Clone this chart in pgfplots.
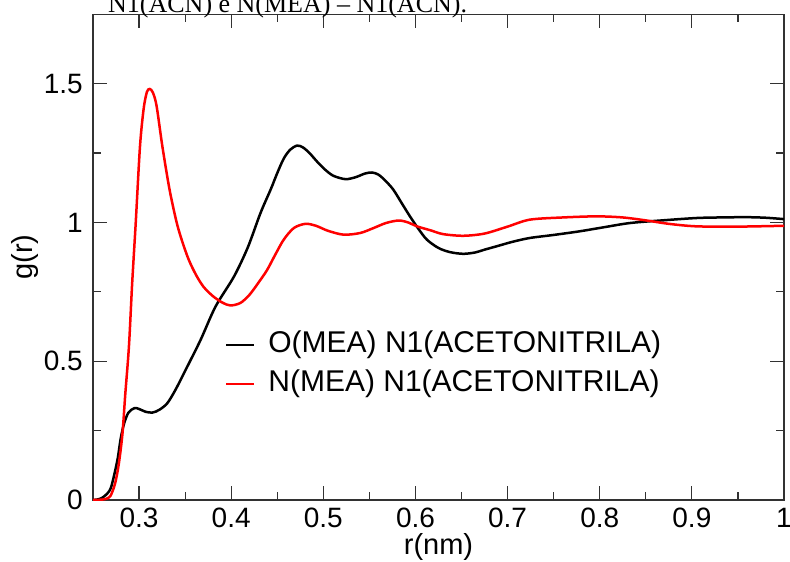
\documentclass[border=0pt]{standalone}
\usepackage{pgfplots}
\pgfplotsset{compat=1.18}
\usepackage{fontspec}
\setmainfont{Liberation Sans}
\newfontfamily\seriffont{Liberation Serif}
\definecolor{axgray}{RGB}{50,50,50}
\begin{document}
\begin{tikzpicture}
\begin{axis}[
  width=691pt, height=485.7pt, scale only axis,
  xmin=0.25, xmax=1, ymin=0, ymax=1.75,
  xtick={0.3,0.4,0.5,0.6,0.7,0.8,0.9,1.0},
  xticklabels={0.3,0.4,0.5,0.6,0.7,0.8,0.9,1},
  minor xtick={0.35,0.45,0.55,0.65,0.75,0.85,0.95},
  ytick={0,0.5,1,1.5},
  yticklabels={0,0.5,1,1.5},
  minor ytick={0.25,0.75,1.25},
  tick align=inside,
  major tick length=14pt, minor tick length=8pt,
  tick style={line width=1.2pt, color=axgray},
  axis line style={line width=1.4pt, color=axgray},
  /pgf/number format/assume math mode=true,
  ticklabel style={font=\fontsize{28}{32}\selectfont, inner sep=0pt},
  xticklabel style={anchor=base, yshift=-27pt},
  yticklabel style={anchor=east, xshift=-10pt},
  xlabel={r(nm)}, ylabel={g(r)},
  label style={font=\fontsize{29}{34}\selectfont, inner sep=0pt},
  xlabel style={at={(axis description cs:0.5,0)}, anchor=base, yshift=-54pt},
  ylabel style={at={([xshift=-68pt]axis description cs:0,0.5)}, anchor=center},
  legend style={at={(0.191,0.279)}, anchor=west, draw=none, fill=none, inner sep=0pt,
    font=\fontsize{30}{36}\selectfont, row sep=10pt, column sep=13pt,
    nodes={inner sep=0pt, text height=22pt, text depth=7pt}},
  legend cell align=left,
  legend image code/.code={\draw[#1, line width=2.2pt] (0pt,0pt) -- (28pt,0pt);},
  clip=true,
]
\addplot[black, line width=2.5pt, smooth, tension=0.5] coordinates {
(0.25,0) (0.255,0.002) (0.26,0.008) (0.2657,0.024) (0.27,0.05) (0.2765,0.144)
(0.280,0.22) (0.2837,0.275) (0.2885,0.315) (0.295,0.331) (0.300,0.328)
(0.307,0.318) (0.3145,0.315) (0.322,0.325) (0.3307,0.349) (0.34,0.40)
(0.3524,0.481) (0.3668,0.577) (0.383,0.697) (0.403,0.805) (0.418,0.91)
(0.4318,1.034) (0.443,1.12) (0.45,1.178) (0.457,1.23) (0.464,1.262) (0.4716,1.277)
(0.478,1.27) (0.485,1.25) (0.493,1.22) (0.502,1.19) (0.511,1.168)
(0.524,1.156) (0.535,1.163) (0.545,1.176) (0.5528,1.18) (0.56,1.172)
(0.568,1.148) (0.576,1.118) (0.585,1.07) (0.594,1.022) (0.603,0.978)
(0.6124,0.938) (0.625,0.908) (0.6376,0.893) (0.652,0.887) (0.665,0.892)
(0.675,0.902) (0.688,0.914) (0.705,0.93) (0.724,0.944) (0.75,0.955)
(0.778,0.968) (0.805,0.983) (0.833,0.998) (0.87,1.008) (0.905,1.016)
(0.93,1.018) (0.959,1.019) (0.98,1.017) (1.0,1.012)
};
\addlegendentry{O(MEA) N1(ACETONITRILA)}
\addplot[red, line width=2.5pt, smooth, tension=0.5] coordinates {
(0.25,0) (0.258,0.001) (0.264,0.004) (0.269,0.015) (0.274,0.06) (0.278,0.13)
(0.282,0.24) (0.285,0.38) (0.289,0.553) (0.2925,0.78) (0.2964,1.0)
(0.301,1.274) (0.305,1.41) (0.3085,1.47) (0.3116,1.481) (0.315,1.468)
(0.319,1.42) (0.3253,1.274) (0.333,1.12) (0.3408,1.0) (0.347,0.93)
(0.354,0.865) (0.362,0.81) (0.370,0.768) (0.38,0.735) (0.39,0.712) (0.399,0.701)
(0.41,0.71) (0.42,0.74) (0.43,0.785) (0.439,0.829) (0.448,0.885)
(0.457,0.938) (0.468,0.98) (0.4806,0.995) (0.492,0.988) (0.505,0.97)
(0.522,0.956) (0.54,0.962) (0.5546,0.98) (0.568,0.998) (0.5817,1.007)
(0.592,1.0) (0.6016,0.986) (0.616,0.972) (0.63,0.958) (0.652,0.952)
(0.675,0.96) (0.7,0.985) (0.724,1.01) (0.76,1.018) (0.7966,1.022)
(0.825,1.018) (0.851,1.007) (0.875,0.995) (0.905,0.986) (0.95,0.985)
(1.0,0.988)
};
\addlegendentry{N(MEA) N1(ACETONITRILA)}
\end{axis}
\node[anchor=base west, inner sep=0pt, font=\seriffont\fontsize{26}{30}\selectfont]
  at ([shift={(15pt,2pt)}]current axis.north west) {N1(ACN) e N(MEA) – N1(ACN).};
\pgfresetboundingbox
\path[use as bounding box] ([shift={(-93pt,-61pt)}]current axis.south west)
  rectangle ([shift={(6pt,14.3pt)}]current axis.north east);
\end{tikzpicture}
\end{document}
